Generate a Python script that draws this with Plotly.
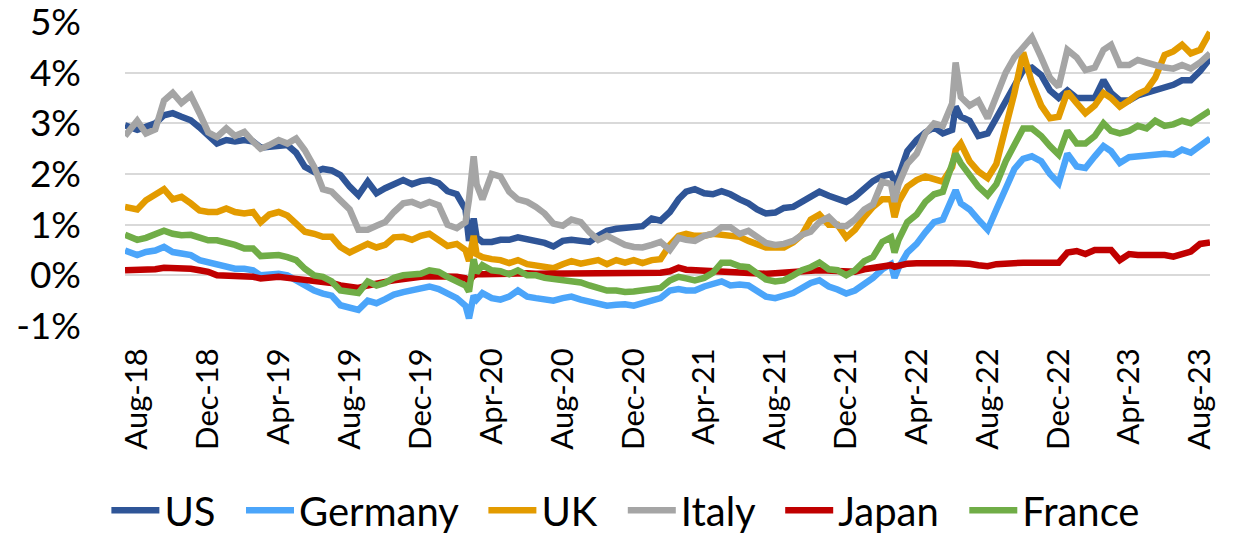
import plotly.graph_objects as go

# sample dates (roughly twice a month, plus a few extra around sharp moves)
dates = (
    ["2018-07-11", "2018-08-01", "2018-08-16", "2018-09-01", "2018-09-16", "2018-10-01",
     "2018-10-16", "2018-11-01", "2018-11-16", "2018-12-01", "2018-12-16"]
    + ["2019-01-01", "2019-01-16", "2019-02-01", "2019-02-16", "2019-03-01", "2019-03-16",
       "2019-04-01", "2019-04-16", "2019-05-01", "2019-05-16", "2019-06-01", "2019-06-16",
       "2019-07-01", "2019-07-16", "2019-08-01", "2019-08-16", "2019-09-01", "2019-09-16",
       "2019-10-01", "2019-10-16", "2019-11-01", "2019-11-16", "2019-12-01", "2019-12-16"]
    + ["2020-01-01", "2020-01-16", "2020-02-01", "2020-02-16", "2020-02-22", "2020-03-01",
       "2020-03-06", "2020-03-16", "2020-04-01", "2020-04-16", "2020-05-01", "2020-05-16",
       "2020-06-01", "2020-06-16", "2020-07-01", "2020-07-16", "2020-08-01", "2020-08-16",
       "2020-09-01", "2020-09-16", "2020-10-01", "2020-10-16", "2020-11-01", "2020-11-16",
       "2020-12-01", "2020-12-16"]
    + ["2021-01-01", "2021-01-16", "2021-02-01", "2021-02-16", "2021-03-01", "2021-03-16",
       "2021-04-01", "2021-04-16", "2021-05-01", "2021-05-16", "2021-06-01", "2021-06-16",
       "2021-07-01", "2021-07-16", "2021-08-01", "2021-08-16", "2021-09-01", "2021-09-16",
       "2021-10-01", "2021-10-16", "2021-11-01", "2021-11-16", "2021-12-01", "2021-12-16"]
    + ["2022-01-01", "2022-01-16", "2022-02-01", "2022-02-16", "2022-02-22", "2022-03-01",
       "2022-03-16", "2022-04-01", "2022-04-16", "2022-05-01", "2022-05-16", "2022-06-01",
       "2022-06-07", "2022-06-16", "2022-07-01", "2022-07-16", "2022-08-01", "2022-08-16",
       "2022-09-01", "2022-09-16", "2022-10-01", "2022-10-16", "2022-11-01", "2022-11-16",
       "2022-12-01", "2022-12-16"]
    + ["2023-01-01", "2023-01-16", "2023-02-01", "2023-02-16", "2023-03-01", "2023-03-16",
       "2023-04-01", "2023-04-16", "2023-05-01", "2023-05-16", "2023-06-01", "2023-06-16",
       "2023-07-01", "2023-07-16", "2023-08-01", "2023-08-18"]
)

us = [
    2.96, 2.87, 2.93, 3.00, 3.16, 3.20, 3.13, 3.06, 2.92, 2.78, 2.60,
    2.67, 2.64, 2.67, 2.64, 2.52, 2.54, 2.55, 2.57, 2.42, 2.14, 2.04, 2.10,
    2.07, 1.98, 1.75, 1.58, 1.85, 1.62, 1.72, 1.80, 1.88, 1.80, 1.86, 1.88,
    1.82, 1.66, 1.60, 1.30, 0.68, 1.12, 0.75, 0.66, 0.66, 0.70, 0.70, 0.75,
    0.72, 0.66, 0.64, 0.57, 0.68, 0.70, 0.68, 0.66, 0.78, 0.88, 0.92, 0.94, 0.97, 0.97,
    1.12, 1.08, 1.25, 1.50, 1.65, 1.70, 1.62, 1.60, 1.66, 1.60, 1.50, 1.42,
    1.30, 1.22, 1.24, 1.33, 1.35, 1.45, 1.58, 1.65, 1.57, 1.50, 1.45, 1.55,
    1.72, 1.86, 1.96, 2.00, 1.85, 1.95, 2.45, 2.67, 2.82, 2.92, 2.80, 2.87, 3.33,
    3.13, 3.05, 2.75, 2.80, 3.10, 3.45, 3.70, 4.05, 4.10, 3.95, 3.65, 3.50, 3.65,
    3.50, 3.50, 3.50, 3.85, 3.60, 3.45, 3.45, 3.55, 3.60, 3.68, 3.72, 3.76,
    3.85, 3.85, 4.03, 4.28,
]

germany = [
    0.49, 0.40, 0.46, 0.49, 0.56, 0.46, 0.43, 0.40, 0.30, 0.26, 0.23,
    0.20, 0.13, 0.13, 0.10, 0.00, 0.03, 0.03, 0.00, -0.10, -0.23, -0.30, -0.36,
    -0.40, -0.59, -0.62, -0.68, -0.50, -0.55, -0.47, -0.38, -0.33, -0.30, -0.25, -0.22,
    -0.27, -0.36, -0.45, -0.60, -0.85, -0.40, -0.48, -0.35, -0.45, -0.48, -0.42, -0.30,
    -0.42, -0.45, -0.47, -0.50, -0.45, -0.42, -0.48, -0.52, -0.55, -0.60, -0.58, -0.57, -0.60, -0.55,
    -0.52, -0.45, -0.30, -0.27, -0.30, -0.30, -0.22, -0.17, -0.12, -0.20, -0.18, -0.20,
    -0.30, -0.42, -0.45, -0.40, -0.35, -0.25, -0.15, -0.10, -0.22, -0.28, -0.36, -0.30,
    -0.18, -0.05, 0.12, 0.22, -0.05, 0.15, 0.45, 0.62, 0.85, 1.05, 1.10, 1.48, 1.68,
    1.42, 1.30, 1.10, 0.90, 1.30, 1.75, 2.10, 2.30, 2.35, 2.25, 2.00, 1.82, 2.40,
    2.15, 2.12, 2.35, 2.55, 2.45, 2.22, 2.33, 2.35, 2.35, 2.40, 2.40, 2.38,
    2.48, 2.42, 2.55, 2.70,
]

uk = [
    1.35, 1.30, 1.48, 1.60, 1.70, 1.50, 1.55, 1.42, 1.28, 1.25, 1.25,
    1.32, 1.25, 1.22, 1.25, 1.05, 1.20, 1.25, 1.18, 1.02, 0.86, 0.82, 0.76,
    0.76, 0.56, 0.45, 0.55, 0.62, 0.55, 0.60, 0.75, 0.76, 0.70, 0.78, 0.82,
    0.70, 0.58, 0.62, 0.50, 0.28, 0.78, 0.42, 0.36, 0.32, 0.30, 0.24, 0.30,
    0.22, 0.20, 0.16, 0.14, 0.22, 0.28, 0.23, 0.26, 0.30, 0.22, 0.30, 0.25, 0.30, 0.24,
    0.30, 0.32, 0.60, 0.78, 0.82, 0.78, 0.78, 0.82, 0.80, 0.80, 0.76, 0.68,
    0.60, 0.55, 0.55, 0.55, 0.65, 0.80, 1.10, 1.20, 1.00, 1.00, 0.75, 0.90,
    1.15, 1.35, 1.50, 1.50, 1.15, 1.45, 1.75, 1.88, 1.95, 1.90, 1.85, 2.14, 2.47,
    2.60, 2.25, 2.05, 1.92, 2.20, 2.90, 3.60, 4.40, 3.80, 3.35, 3.10, 3.13, 3.62,
    3.40, 3.20, 3.35, 3.60, 3.50, 3.33, 3.45, 3.58, 3.66, 3.90, 4.35, 4.42,
    4.55, 4.38, 4.45, 4.80,
]

italy = [
    2.75, 3.05, 2.80, 2.88, 3.45, 3.60, 3.40, 3.55, 3.20, 2.82, 2.73,
    2.90, 2.75, 2.83, 2.64, 2.50, 2.57, 2.67, 2.60, 2.70, 2.47, 2.14, 1.70,
    1.65, 1.48, 1.30, 0.90, 0.90, 0.98, 1.05, 1.25, 1.42, 1.45, 1.38, 1.45,
    1.38, 1.00, 0.93, 1.05, 1.50, 2.35, 1.80, 1.50, 2.00, 1.95, 1.65, 1.50,
    1.45, 1.35, 1.22, 1.02, 0.98, 1.10, 1.05, 0.85, 0.70, 0.78, 0.70, 0.60, 0.56, 0.55,
    0.60, 0.66, 0.50, 0.74, 0.70, 0.68, 0.78, 0.82, 0.95, 0.95, 0.82, 0.88,
    0.76, 0.64, 0.60, 0.62, 0.68, 0.80, 0.86, 1.05, 1.15, 0.98, 0.97, 1.10,
    1.30, 1.40, 1.85, 1.80, 1.45, 1.80, 2.20, 2.40, 2.80, 3.00, 2.95, 3.39, 4.20,
    3.52, 3.35, 3.45, 3.10, 3.55, 4.00, 4.30, 4.50, 4.70, 4.30, 3.90, 3.72, 4.45,
    4.30, 4.05, 4.10, 4.45, 4.55, 4.15, 4.15, 4.25, 4.20, 4.15, 4.10, 4.08,
    4.15, 4.08, 4.20, 4.38,
]

japan = [
    0.10, 0.10, 0.11, 0.12, 0.15, 0.15, 0.13, 0.13, 0.10, 0.07, 0.00,
    0.00, 0.00, -0.02, -0.03, -0.06, -0.04, -0.03, -0.05, -0.07, -0.10, -0.10, -0.13,
    -0.15, -0.20, -0.22, -0.25, -0.20, -0.15, -0.13, -0.10, -0.07, -0.05, -0.03, -0.02,
    -0.02, -0.03, -0.03, -0.06, -0.12, 0.00, 0.02, 0.02, 0.03, 0.03, 0.04, 0.05,
    0.04, 0.03, 0.03, 0.03, 0.04, 0.04, 0.03, 0.03, 0.04, 0.03, 0.03, 0.02, 0.03, 0.04,
    0.04, 0.05, 0.08, 0.15, 0.11, 0.10, 0.09, 0.08, 0.06, 0.05, 0.04, 0.03,
    0.03, 0.03, 0.04, 0.06, 0.07, 0.08, 0.09, 0.10, 0.09, 0.08, 0.07, 0.07,
    0.12, 0.15, 0.20, 0.20, 0.17, 0.20, 0.23, 0.24, 0.25, 0.24, 0.24, 0.24, 0.24,
    0.24, 0.23, 0.20, 0.18, 0.22, 0.24, 0.25, 0.25, 0.25, 0.25, 0.25, 0.25, 0.45,
    0.48, 0.42, 0.50, 0.50, 0.50, 0.30, 0.42, 0.40, 0.40, 0.42, 0.40, 0.37,
    0.43, 0.47, 0.62, 0.65,
]

france = [
    0.80, 0.70, 0.74, 0.80, 0.88, 0.82, 0.79, 0.80, 0.75, 0.69, 0.69,
    0.66, 0.60, 0.53, 0.53, 0.38, 0.40, 0.40, 0.36, 0.30, 0.13, 0.00, -0.03,
    -0.12, -0.30, -0.32, -0.35, -0.12, -0.20, -0.15, -0.05, 0.00, 0.00, 0.03, 0.10,
    0.07, -0.03, -0.13, -0.20, -0.32, 0.32, 0.05, 0.20, 0.10, 0.08, 0.02, 0.10,
    0.00, 0.00, -0.05, -0.07, -0.08, -0.10, -0.14, -0.20, -0.24, -0.30, -0.30, -0.33, -0.32, -0.30,
    -0.30, -0.25, -0.10, -0.03, -0.06, -0.10, -0.05, 0.05, 0.25, 0.25, 0.18, 0.16,
    0.04, -0.08, -0.12, -0.10, 0.00, 0.10, 0.16, 0.25, 0.12, 0.10, 0.00, 0.10,
    0.28, 0.36, 0.66, 0.75, 0.45, 0.70, 1.05, 1.20, 1.45, 1.60, 1.65, 2.14, 2.40,
    2.21, 2.00, 1.75, 1.58, 1.80, 2.25, 2.60, 2.90, 2.90, 2.75, 2.55, 2.38, 2.85,
    2.60, 2.60, 2.75, 3.00, 2.85, 2.80, 2.85, 2.95, 2.90, 3.05, 2.95, 2.98,
    3.05, 3.00, 3.12, 3.25,
]

series = [
    ("US", us, "#2F5597"),
    ("Germany", germany, "#4BA5FA"),
    ("UK", uk, "#E39B00"),
    ("Italy", italy, "#A5A5A5"),
    ("Japan", japan, "#C00000"),
    ("France", france, "#70AD47"),
]

y_ticks = [-1, 0, 1, 2, 3, 4, 5]
y_labels = ["-1%", "0%", "1%", "2%", "3%", "4%", "5%"]

fig = go.Figure()
for name, vals, color in series:
    fig.add_trace(go.Scatter(
        x=dates, y=vals,
        name=name + "\u00a0\u00a0",  # a little extra room between legend entries
        mode="lines",
        line=dict(color=color, width=6.5),
    ))

font_family = "Lato, Calibri, sans-serif"

# the page body has an 8px margin, so the figure is a bit smaller than the window
fig.update_layout(
    width=1236, height=526,
    margin=dict(l=117, r=34, t=14, b=208),
    paper_bgcolor="white", plot_bgcolor="white",
    font=dict(family=font_family, color="black"),
    showlegend=True,
    legend=dict(
        orientation="h", xref="container", x=0.508, xanchor="center",
        yref="container", y=0.045, yanchor="middle",
        font=dict(size=40), itemwidth=48, tracegroupgap=0,
    ),
    xaxis=dict(
        type="date",
        range=["2018-07-11", "2023-08-18"],
        tick0="2018-08-01", dtick="M4", tickformat="%b-%y",
        tickangle=-90, tickfont=dict(size=31),
        showgrid=False, zeroline=False, showline=False,
        ticks="", ticklabelstandoff=15, automargin=False,
    ),
    yaxis=dict(
        range=[-1, 5],
        tickvals=y_ticks, ticktext=y_labels,
        tickfont=dict(size=37), ticklabeloverflow="allow",
        showgrid=True, gridcolor="#D9D9D9", gridwidth=2,
        zeroline=False, showline=False,
        ticks="", ticklabelstandoff=43, automargin=False,
    ),
)

fig.write_html("out.html")
